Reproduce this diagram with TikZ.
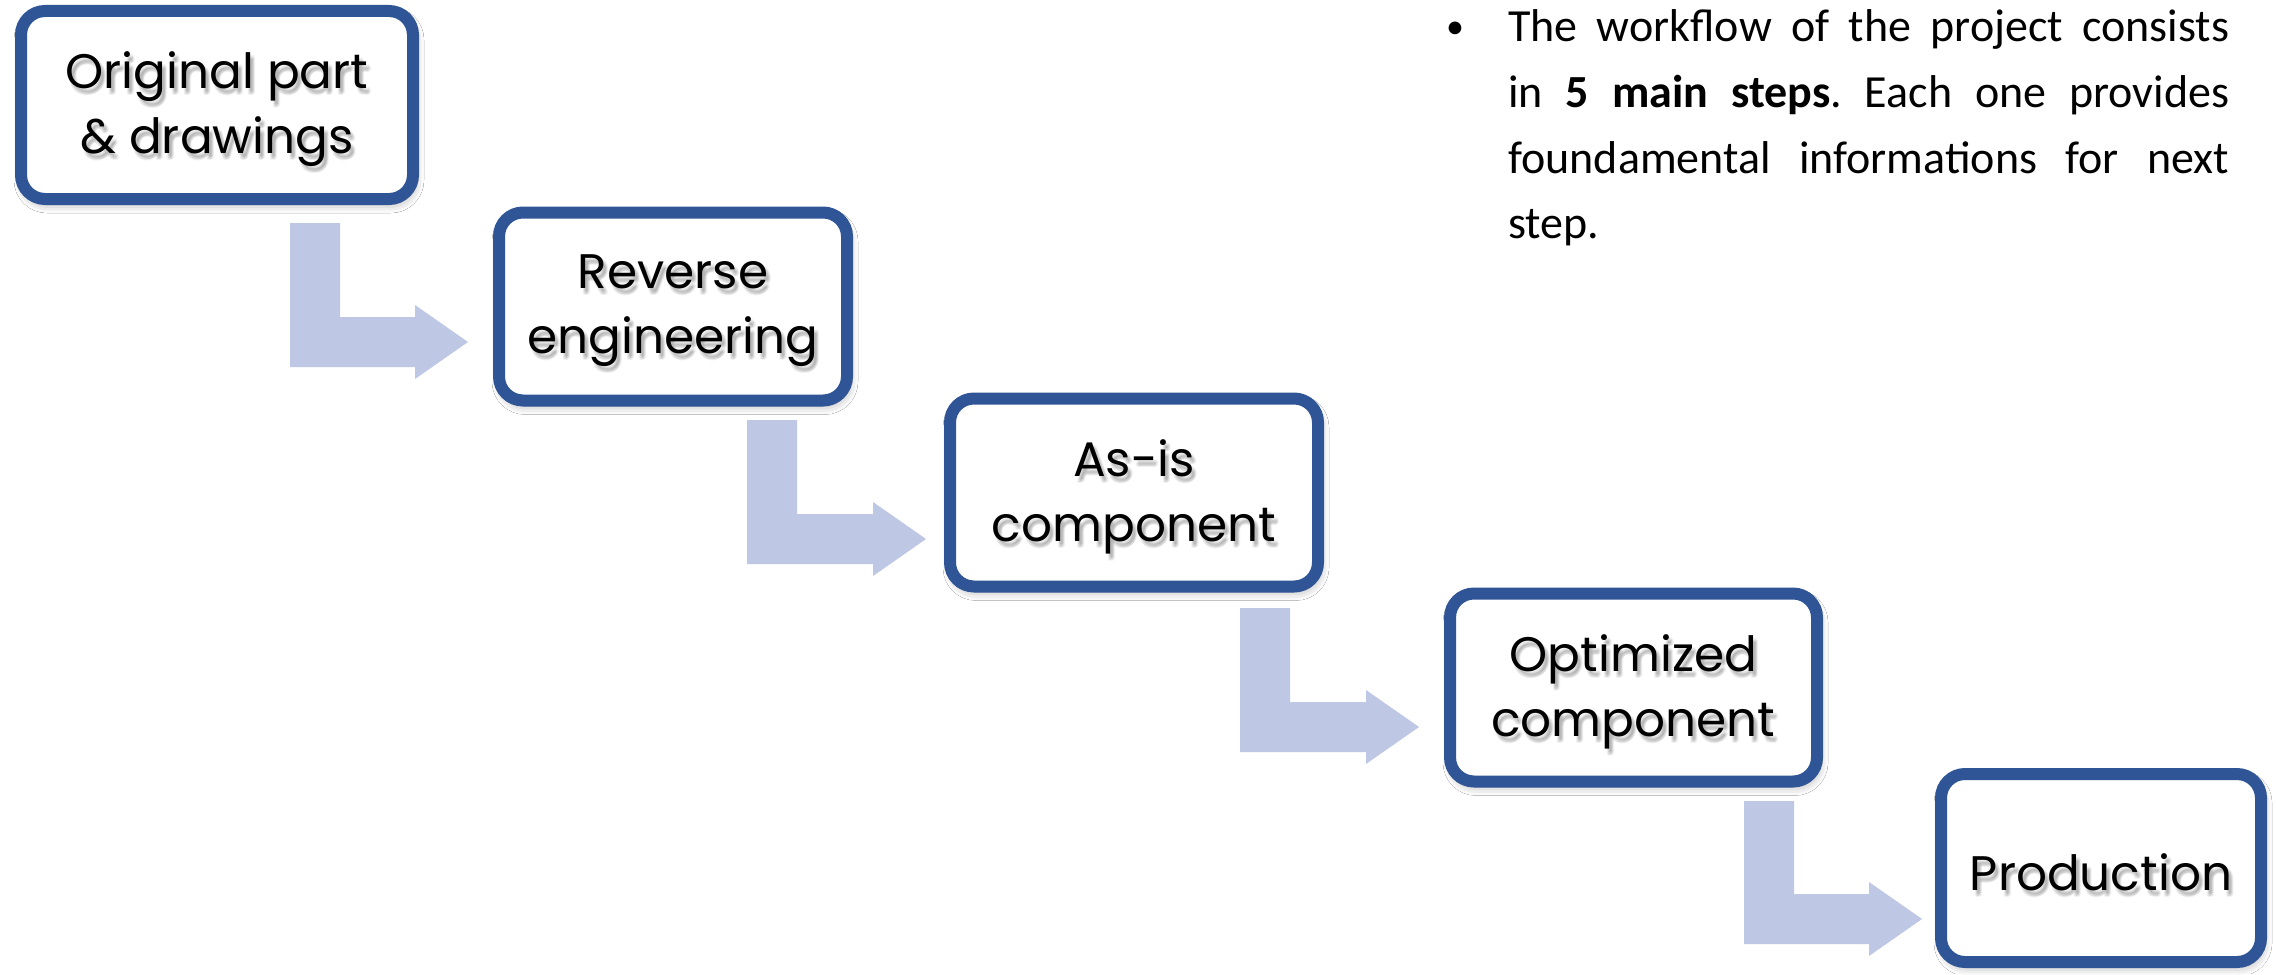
\documentclass[tikz,border=0pt]{standalone}
\usepackage{fontspec}
\setmainfont{Carlito}
\newfontfamily\poppins{Poppins}
\usetikzlibrary{calc,shadows.blur}
\frenchspacing

\definecolor{stepblue}{RGB}{47,85,151}
\definecolor{flowfill}{RGB}{190,199,228}

\tikzset{
  labelfont/.style={font=\poppins\fontsize{48.5}{65}\selectfont, align=center, inner sep=0pt},
  stepbox/.style={draw=stepblue, line width=12pt, rounded corners=24pt,
    fill=white, minimum height=188pt, inner sep=0pt,
    blur shadow={shadow xshift=2pt, shadow yshift=-5pt, shadow blur radius=9pt, shadow opacity=35}},
  steplabel/.style={labelfont, text=black},
  softtext/.style={labelfont, text=black, text opacity=0.05},
  flow/.style={fill=flowfill, draw=none},
  notefont/.style={font=\fontsize{46}{65}\selectfont, inner sep=0pt},
}

% box with its label and a soft shadow under the label
\newcommand{\stepnode}[4]{%
  \node[stepbox, minimum width=#3] (#1) at #2 {};
  \node[steplabel] (#1-text) at ($(#1)+(0,4)$) {#4};
  \foreach \dx/\dy [count=\k] in {3/4,4/6,2/6,5/5,4/3,3/7}
    \node[softtext] (#1-sh\k) at ($(#1-text)+(\dx,\dy)$) {#4};}

% bent block arrow: shaft left x, top y, horizontal shaft top y, head base x, tip x
\newcommand{\bentarrow}[5]{%
  \fill[flow] (#1,#2) -- (#1+50,#2) -- (#1+50,#3) -- (#4,#3) -- (#4,#3-12)
    -- (#5,#3+25) -- (#4,#3+62) -- (#4,#3+50) -- (#1,#3+50) -- cycle;}

\begin{document}
\begin{tikzpicture}[x=1pt,y=-1pt]
\fill[white] (0,0) rectangle (2277,974);
\useasboundingbox (0,0) rectangle (2277,974);

% process steps
\stepnode{b1}{(217,105)}{392pt}{Original part\\\& drawings}
\stepnode{b2}{(673,306.5)}{348pt}{Reverse\\engineering}
\stepnode{b3}{(1134,492.5)}{368pt}{As-is\\component}
\stepnode{b4}{(1633.5,687.5)}{367pt}{Optimized\\component}
\stepnode{b5}{(2101,868)}{320pt}{Production}

% connectors between the steps
\bentarrow{290}{223}{317}{415}{468}
\bentarrow{747}{420}{514}{873}{926}
\bentarrow{1240}{608}{702}{1366}{1419}
\bentarrow{1744}{801}{894}{1869}{1922}

% note
\node[font=\fontsize{36}{40}\selectfont, inner sep=0pt, anchor=base] (bullet) at (1455,38) {•};
\node[notefont, anchor=base west] (n1) at (1508,42)
  {\makebox[721pt][s]{The workflow of the project consists}};
\node[notefont, anchor=base west] (n2) at (1508,107.5)
  {\makebox[721pt][s]{in \textbf{5 main steps}. Each one provides}};
\node[notefont, anchor=base west] (n3) at (1508,173)
  {\makebox[721pt][s]{foundamental informations for next}};
\node[notefont, anchor=base west] (n4) at (1508,238.5) {step.};
\end{tikzpicture}
\end{document}
